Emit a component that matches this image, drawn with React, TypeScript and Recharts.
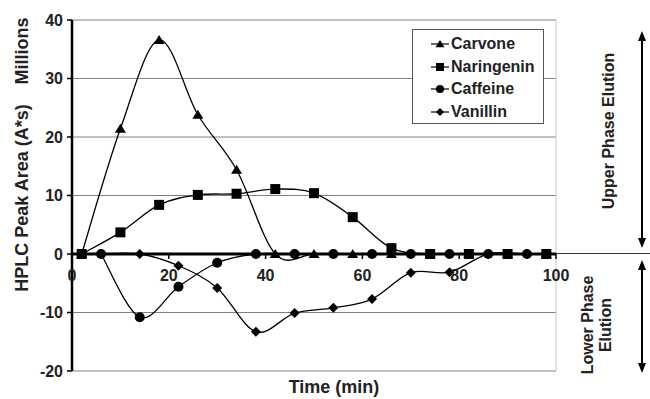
import React from 'react';
import {
    LineChart,
    Line,
    XAxis,
    YAxis,
    CartesianGrid,
    ReferenceLine,
    ReferenceDot,
} from 'recharts';

// sampling times (min)
const timesA = [2, 10, 18, 26, 34, 42, 50, 58, 66, 74, 82, 90, 98];
const timesB = [6, 14, 22, 30, 38, 46, 54, 62, 70, 78, 86, 94];

// peak areas, millions
const carvone = [0, 21.4, 36.6, 23.8, 14.4, 0, 0, 0, 0, 0, 0, 0, 0];
const naringenin = [0, 3.7, 8.4, 10.1, 10.3, 11.1, 10.4, 6.3, 1.0, 0, 0, 0, 0];
const caffeine = [0, -10.8, -5.6, -1.5, 0, 0, 0, 0, 0, 0, 0, 0];
const vanillin = [0, 0, -2.0, -5.8, -13.3, -10.1, -9.2, -7.7, -3.2, -3.1, 0, 0];

const xTicks = [0, 20, 40, 60, 80, 100];
const yTicks = [-20, -10, 0, 10, 20, 30, 40];

const toRows = (times: number[], vals: number[]) => times.map((t, i) => ({ t, v: vals[i] }));

const series = [
    { name: 'Carvone', shape: 'triangle', data: toRows(timesA, carvone) },
    { name: 'Naringenin', shape: 'square', data: toRows(timesA, naringenin) },
    { name: 'Caffeine', shape: 'circle', data: toRows(timesB, caffeine) },
    { name: 'Vanillin', shape: 'diamond', data: toRows(timesB, vanillin) },
];

const FONT = '"Liberation Sans", Arial, sans-serif';

// excel-like smoothed line (catmull-rom as bezier)
const excelSmooth = (context: any) => {
    let pts: number[][] = [];
    return {
        areaStart() {},
        areaEnd() {},
        lineStart() {
            pts = [];
        },
        point(x: number, y: number) {
            pts.push([+x, +y]);
        },
        lineEnd() {
            const n = pts.length;
            if (!n) return;
            context.moveTo(pts[0][0], pts[0][1]);
            for (let i = 0; i < n - 1; i++) {
                const p0 = pts[Math.max(i - 1, 0)];
                const p1 = pts[i];
                const p2 = pts[i + 1];
                const p3 = pts[Math.min(i + 2, n - 1)];
                context.bezierCurveTo(
                    p1[0] + (p2[0] - p0[0]) / 6,
                    p1[1] + (p2[1] - p0[1]) / 6,
                    p2[0] - (p3[0] - p1[0]) / 6,
                    p2[1] - (p3[1] - p1[1]) / 6,
                    p2[0],
                    p2[1]
                );
            }
        },
    };
};

function Marker({ shape, cx, cy, s = 5 }: { shape: string; cx: number; cy: number; s?: number }) {
    if (cx == null || cy == null) return null;
    if (shape === 'triangle')
        return <polygon points={`${cx},${cy - s} ${cx - s - 0.5},${cy + s * 0.8} ${cx + s + 0.5},${cy + s * 0.8}`} fill="#000" />;
    if (shape === 'square')
        return <rect x={cx - s} y={cy - s} width={s * 2} height={s * 2} fill="#000" />;
    if (shape === 'circle') return <circle cx={cx} cy={cy} r={s} fill="#000" />;
    return <polygon points={`${cx},${cy - s} ${cx + s},${cy} ${cx},${cy + s} ${cx - s},${cy}`} fill="#000" />;
}

function LegendBox() {
    return (
        <div
            style={{
                position: 'absolute',
                left: 412,
                top: 29,
                width: 130,
                height: 93,
                border: '1px solid #555',
                background: '#fff',
                fontFamily: FONT,
                fontWeight: 'bold',
                fontSize: 16,
                color: '#222',
            }}
        >
            {series.map((s, i) => (
                <div key={s.name} style={{ position: 'absolute', left: 17, top: 4 + i * 22.7, height: 20, display: 'flex', alignItems: 'center' }}>
                    <svg width={20} height={20}>
                        <line x1={1} y1={10} x2={19} y2={10} stroke="#000" strokeWidth={1.2} />
                        <Marker shape={s.shape} cx={10} cy={10} s={s.shape === 'diamond' ? 4 : 4} />
                    </svg>
                    <span style={{ marginLeft: 1 }}>{s.name}</span>
                </div>
            ))}
        </div>
    );
}

function Annotations() {
    const text = { fontFamily: FONT, fontWeight: 'bold', fill: '#222' } as const;
    return (
        <svg width={650} height={399} style={{ position: 'absolute', left: 0, top: 0, pointerEvents: 'none' }}>
            <text {...text} fontSize={18} transform="translate(28,198) rotate(-90)" textAnchor="middle">
                HPLC Peak Area (A*s)
            </text>
            <text {...text} fontSize={18} transform="translate(28,51) rotate(-90)" textAnchor="middle">
                Millions
            </text>
            <text {...text} fontSize={18} x={334} y={393} textAnchor="middle">
                Time (min)
            </text>
            <line x1={556} y1={253.5} x2={650} y2={253.5} stroke="#333" strokeWidth={1} />
            <text {...text} fontSize={16} transform="translate(614,131) rotate(-90)" textAnchor="middle">
                Upper Phase Elution
            </text>
            <text {...text} fontSize={16} transform="translate(593,325) rotate(-90)" textAnchor="middle">
                Lower Phase
            </text>
            <text {...text} fontSize={16} transform="translate(611,325) rotate(-90)" textAnchor="middle">
                Elution
            </text>
            <line x1={642} y1={36} x2={642} y2={243} stroke="#000" strokeWidth={2} />
            <polygon points="642,31 638,41 646,41" fill="#000" />
            <polygon points="642,248 638,238 646,238" fill="#000" />
            <line x1={642} y1={265} x2={642} y2={368} stroke="#000" strokeWidth={2} />
            <polygon points="642,260 638,270 646,270" fill="#000" />
            <polygon points="642,373 638,363 646,363" fill="#000" />
        </svg>
    );
}

export default function App() {
    return (
        <div style={{ position: 'absolute', left: 0, top: 0, width: 650, height: 399, background: '#fff' }}>
            <LineChart width={650} height={399} margin={{ top: 20, right: 94, left: 22, bottom: 28 }}>
                <CartesianGrid vertical={false} stroke="#808080" strokeWidth={1} />
                <XAxis type="number" dataKey="t" domain={[0, 100]} ticks={xTicks} hide allowDuplicatedCategory={false} />
                <YAxis
                    type="number"
                    domain={[-20, 40]}
                    ticks={yTicks}
                    width={50}
                    interval={0}
                    axisLine={{ stroke: '#000', strokeWidth: 2.5 }}
                    tickLine={{ stroke: '#000', strokeWidth: 1.5 }}
                    tickSize={5}
                    tickMargin={4}
                    tick={{ fontSize: 16, fontWeight: 'bold', fill: '#222', fontFamily: FONT }}
                />
                <ReferenceLine x={100} stroke="#c8c8c8" strokeWidth={1} />
                <ReferenceLine y={0} stroke="#000" strokeWidth={3} />
                {xTicks.map((t) => (
                    <ReferenceDot
                        key={t}
                        x={t}
                        y={0}
                        r={0}
                        shape={(p: any) => <line x1={p.cx} y1={p.cy} x2={p.cx} y2={p.cy + 5} stroke="#000" strokeWidth={1.5} />}
                        label={{ value: t, position: 'bottom', offset: 16, fontSize: 16, fontWeight: 'bold', fill: '#222', fontFamily: FONT }}
                    />
                ))}
                {series.map((s) => (
                    <Line
                        key={s.name}
                        data={s.data}
                        dataKey="v"
                        name={s.name}
                        type={excelSmooth as any}
                        stroke="#000"
                        strokeWidth={1.3}
                        dot={(p: any) => <Marker key={`${s.name}-${p.index}`} shape={s.shape} cx={p.cx} cy={p.cy} />}
                        activeDot={false}
                        isAnimationActive={false}
                    />
                ))}
            </LineChart>
            <Annotations />
            <LegendBox />
        </div>
    );
}
